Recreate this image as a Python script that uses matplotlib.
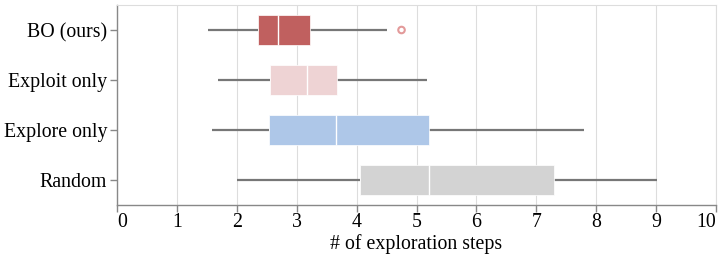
import numpy as np
import matplotlib
matplotlib.use('Agg')
import matplotlib.pyplot as plt

# box plot summaries
methods = ['BO (ours)', 'Exploit only', 'Explore only', 'Random']
lower = [1.52, 1.69, 1.58, 2.01]
q1 = [2.35, 2.55, 2.53, 4.06]
median = [2.68, 3.18, 3.65, 5.21]
q3 = [3.23, 3.68, 5.21, 7.30]
upper = [4.50, 5.17, 7.80, 9.01]
outlier_method = ['BO (ours)']
outlier_value = [4.75]
colors = ['#c0605f', '#eed3d4', '#aec7e8', '#d3d3d3']

plt.rcParams['font.family'] = ['Liberation Serif', 'DejaVu Serif']

fig = plt.figure(figsize=(7.22, 2.61), dpi=100)
ax = fig.add_axes([117 / 722, 56 / 261, 599 / 722, 200 / 261])

ypos = {m: len(methods) - 1 - i for i, m in enumerate(methods)}
h = 0.6

for i, m in enumerate(methods):
    y = ypos[m]
    ax.hlines(y, lower[i], q1[i], color='#777777', lw=1.6, zorder=2)
    ax.hlines(y, q3[i], upper[i], color='#777777', lw=1.6, zorder=2)
    ax.barh(y, q3[i] - q1[i], left=q1[i], height=h, color=colors[i],
            edgecolor='white', linewidth=0.5, zorder=3)
    ax.vlines(median[i], y - h / 2, y + h / 2, color='white', lw=1.0, zorder=4)

for m, v in zip(outlier_method, outlier_value):
    ax.scatter([v], [ypos[m]], s=22, facecolors='none',
               edgecolors='#e39a9a', linewidths=1.5, zorder=5)

ax.set_xlim(0, 10)
ax.set_ylim(-0.5, len(methods) - 0.5)
ax.set_xticks(range(0, 11))
ax.set_yticks([ypos[m] for m in methods])
ax.set_yticklabels(methods)
ax.grid(axis='x', color='#dddddd', lw=0.8, zorder=0)
ax.set_axisbelow(True)

for side in ['top', 'right']:
    ax.spines[side].set_color('#dddddd')
    ax.spines[side].set_linewidth(0.8)
for side in ['left', 'bottom']:
    ax.spines[side].set_color('#888888')
    ax.spines[side].set_linewidth(1.0)

ax.tick_params(axis='both', colors='#888888', labelcolor='black',
               labelsize=14.3, length=5, width=1.0)
ax.tick_params(axis='x', pad=1)
ax.tick_params(axis='y', pad=2)
ax.set_xlabel('# of exploration steps', fontsize=14.3, labelpad=1)

# flush the end labels inside the axis like the original
xlabels = ax.get_xticklabels()
xlabels[0].set_horizontalalignment('left')
xlabels[-1].set_horizontalalignment('right')

plt.savefig('out.png', dpi=100)
